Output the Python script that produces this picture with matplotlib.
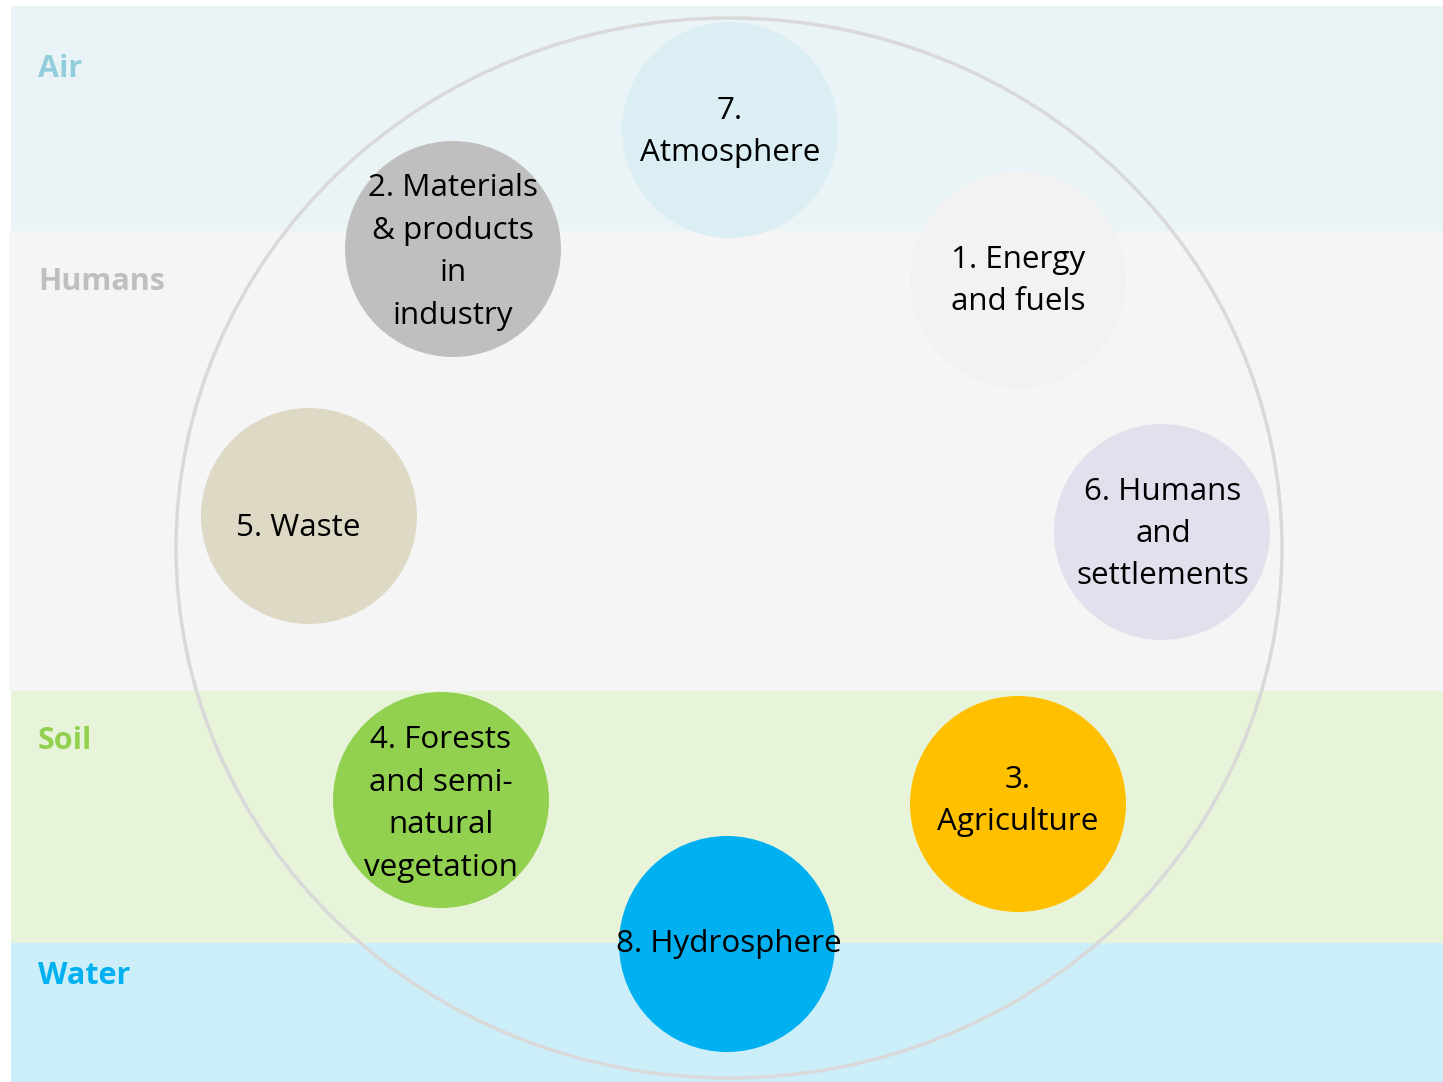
import matplotlib.pyplot as plt
from matplotlib.patches import Circle, Ellipse, Rectangle

plt.rcParams['font.family'] = ['Open Sans', 'DejaVu Sans']

# layers (background bands), top to bottom, in pixel coords
band_names = ['Air', 'Humans', 'Soil', 'Water']
band_top = [6, 231, 691, 943]
band_bottom = [231, 691, 943, 1082]
band_left = [11, 9, 11, 11]
band_fill = ['#eaf3f6', '#f5f5f5', '#e8f4da', '#cceef9']
band_text = ['#92cddc', '#bfbfbf', '#92d050', '#00b0f0']
band_label_y = [69, 282, 741, 976]

# compartments
comp_labels = ['7.\nAtmosphere', '2. Materials\n& products\nin\nindustry',
               '1. Energy\nand fuels', '5. Waste', '6. Humans\nand\nsettlements',
               '4. Forests\nand semi-\nnatural\nvegetation', '3.\nAgriculture',
               '8. Hydrosphere']
comp_x = [730, 453, 1018, 309, 1162, 441, 1018, 727]
comp_y = [130, 249, 280, 516, 532, 800, 804, 944]
comp_text_x = [730, 453, 1018, 298, 1163, 441, 1018, 729]
comp_text_y = [132, 252, 281, 528, 534, 804, 801, 944]
comp_colors = ['#daeef3', '#bfbfbf', '#f2f2f2', '#ddd9c4', '#e4dfec',
               '#92d050', '#ffc000', '#00b0f0']
radius = 108

fig = plt.figure(figsize=(14.43, 10.82), dpi=100)
ax = fig.add_axes([0, 0, 1, 1])
ax.set_xlim(0, 1443)
ax.set_ylim(1082, 0)
ax.axis('off')

for i, name in enumerate(band_names):
    ax.add_patch(Rectangle((band_left[i], band_top[i]), 1443 - band_left[i],
                           band_bottom[i] - band_top[i], color=band_fill[i], lw=0, zorder=0))
    ax.text(38, band_label_y[i], name, color=band_text[i], fontsize=22,
            fontweight='bold', va='center', ha='left', zorder=1)

# outer ring
ax.add_patch(Ellipse((729, 548), 1106, 1060, fill=False, ec='#d9d9d9', lw=2.5, zorder=2))

for i, lab in enumerate(comp_labels):
    ax.add_patch(Circle((comp_x[i], comp_y[i]), radius, color=comp_colors[i], lw=0, zorder=3))
    ax.text(comp_text_x[i], comp_text_y[i], lab, ha='center', va='center',
            fontsize=22.6, linespacing=1.54, color='black', zorder=4)

fig.savefig('out.png', dpi=100)
